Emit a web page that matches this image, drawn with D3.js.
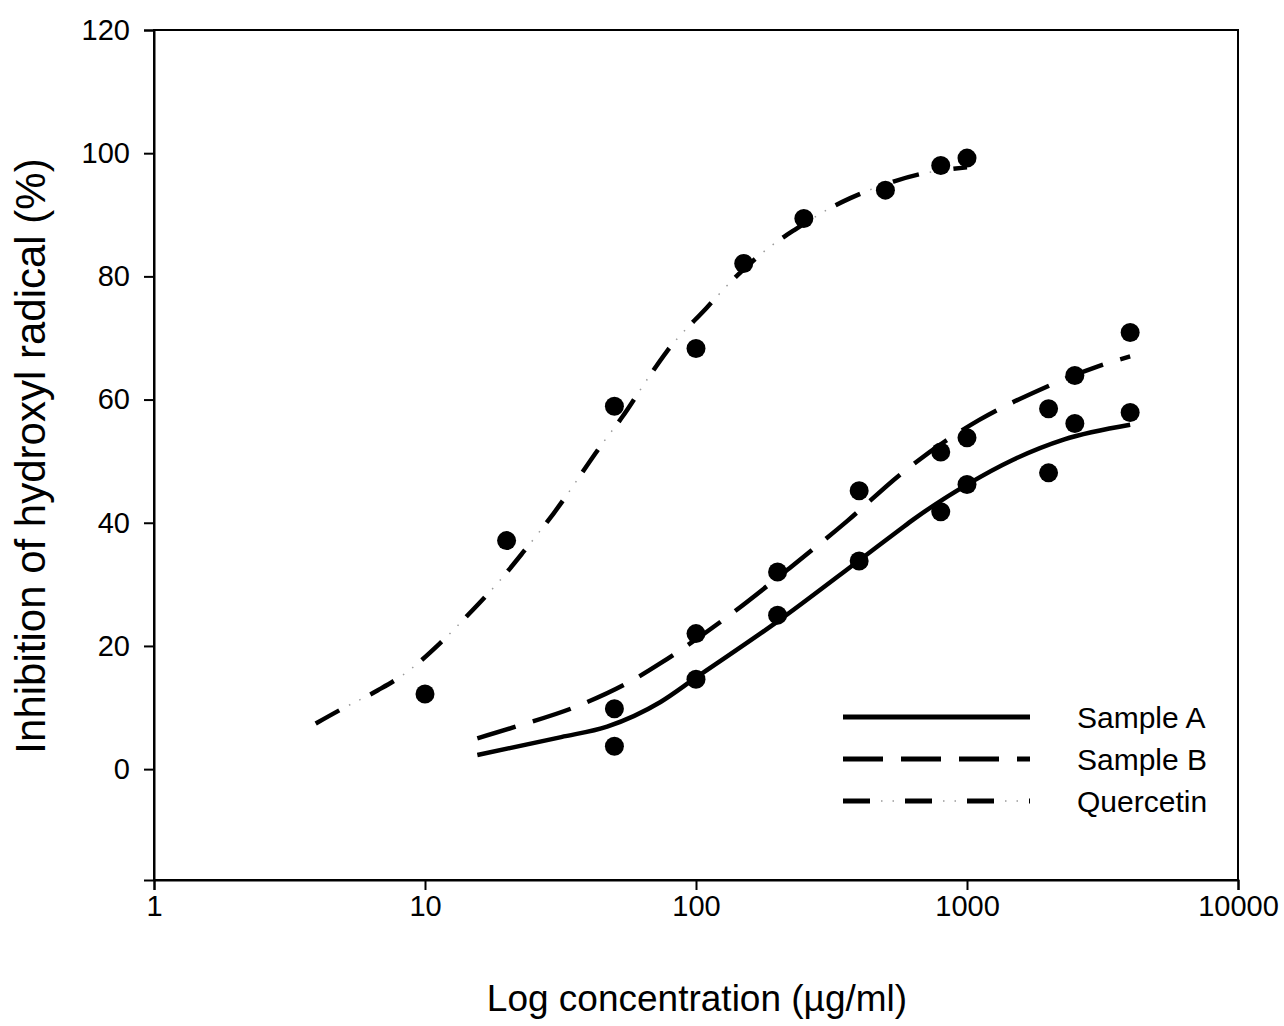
<!DOCTYPE html>
<html>
<head>
<meta charset="utf-8">
<script src="https://cdn.jsdelivr.net/npm/d3@7"></script>
<style>
  html, body { margin: 0; padding: 0; background: #fff; }
  svg { display: block; font-family: "Liberation Sans", Arial, sans-serif; }
</style>
</head>
<body>
<div id="vis-display"></div>
<script>
// Dose-response: inhibition of hydroxyl radical vs log concentration

const X_TICKS = [1, 10, 100, 1000, 10000];
const Y_TICKS = [0, 20, 40, 60, 80, 100, 120];

// Measured points [concentration µg/ml, inhibition %]
const PTS_A = [[50, 3.7], [100, 14.6], [200, 25.0], [400, 33.8], [800, 41.8],
               [1000, 46.2], [2000, 48.1], [2500, 56.1], [4000, 57.9]];
const PTS_B = [[50, 9.8], [100, 22.0], [200, 32.0], [400, 45.2], [800, 51.5],
               [1000, 53.8], [2000, 58.5], [2500, 63.9], [4000, 70.9]];
const PTS_Q = [[10, 12.2], [20, 37.1], [50, 58.9], [100, 68.3], [150, 82.1],
               [250, 89.4], [500, 94.0], [800, 98.0], [1000, 99.2]];

// Fitted curves
const FIT_A = [[15.6, 2.3], [31.8, 5.2], [47, 6.9], [74, 10.9], [99.6, 14.8], [199, 23.9],
               [403, 34.0], [566, 38.9], [633, 40.5], [1000, 46.2], [1474, 50.2],
               [2273, 53.5], [4000, 55.9]];
const FIT_B = [[15.6, 5.0], [22, 7.0], [35.9, 10.1], [58.7, 14.5], [74, 17.2], [133, 25.0],
               [218, 32.4], [362, 40.3], [566, 47.8], [1110, 56.7], [1860, 61.6],
               [3045, 65.4], [4000, 67.0]];
const FIT_Q = [[3.95, 7.4], [4.9, 9.7], [6.7, 12.8], [8.3, 15.3], [11.4, 20.5], [14.1, 24.6],
               [19.3, 31.1], [23.1, 35.3], [29.8, 41.5], [45.4, 53.0], [53.5, 57.2],
               [68, 64.1], [78, 67.8], [110, 75.0], [137, 79.5], [185, 84.6], [232, 87.6],
               [326, 91.5], [371, 92.7], [535, 95.4], [671, 96.6], [1000, 97.7]];

const SERIES = ["Sample A", "Sample B", "Quercetin"];

const W = 1284, H = 1026;
const margin = { top: 30, right: 46, bottom: 146, left: 154 };
const innerW = W - margin.left - margin.right;
const innerH = H - margin.top - margin.bottom;

const svg = d3.select("#vis-display").append("svg")
  .attr("width", W).attr("height", H);

const g = svg.append("g")
  .attr("transform", `translate(${margin.left},${margin.top})`);

const x = d3.scaleLog().domain([1, 10000]).range([0, innerW]);
const y = d3.scaleLinear().domain([-18, 120]).range([innerH, 0]);

// ── Frame + axes ─────────────────────────────────────────────────────────────

g.append("rect")
  .attr("width", innerW).attr("height", innerH)
  .attr("fill", "none").attr("stroke", "#000").attr("stroke-width", 2);

const xAx = g.append("g")
  .attr("transform", `translate(0,${innerH})`)
  .call(d3.axisBottom(x).tickValues(X_TICKS).tickFormat(d3.format("d"))
    .tickSize(10).tickPadding(5));

const yAx = g.append("g")
  .call(d3.axisLeft(y).tickValues(Y_TICKS).tickSize(10).tickPadding(14));

[xAx, yAx].forEach(ax => {
  ax.select(".domain").attr("stroke-width", 2);
  ax.selectAll(".tick line").attr("stroke-width", 2);
  ax.selectAll("text").style("font-size", "29px").attr("fill", "#000");
});

// Axis titles
svg.append("text")
  .attr("x", margin.left + innerW / 2 + 1)
  .attr("y", 1011)
  .attr("text-anchor", "middle")
  .style("font-size", "37px")
  .text("Log concentration (µg/ml)");

svg.append("text")
  .attr("transform", `translate(45,${456}) rotate(-90)`)
  .attr("text-anchor", "middle")
  .style("font-size", "42px")
  .text("Inhibition of hydroxyl radical (%)");

// ── Curves ───────────────────────────────────────────────────────────────────

const line = d3.line()
  .x(d => x(d[0]))
  .y(d => y(d[1]))
  .curve(d3.curveMonotoneX);

const STYLE = {
  "Sample A":  { fit: FIT_A, pts: PTS_A, dash: null },
  "Sample B":  { fit: FIT_B, pts: PTS_B, dash: "40,18" },
  "Quercetin": { fit: FIT_Q, pts: PTS_Q, dash: "27,35" },
};

SERIES.forEach(name => {
  const s = STYLE[name];
  g.append("path")
    .datum(s.fit)
    .attr("d", line)
    .attr("fill", "none")
    .attr("stroke", "#000")
    .attr("stroke-width", 4.5)
    .attr("stroke-dasharray", s.dash);
  if (name === "Quercetin") {
    // faint dots between the dashes
    g.append("path")
      .datum(s.fit)
      .attr("d", line)
      .attr("fill", "none")
      .attr("stroke", "#9a9a9a")
      .attr("stroke-width", 1.5)
      .attr("stroke-dasharray", "0,38,1.5,10,1.5,11");
  }
});

// ── Points ───────────────────────────────────────────────────────────────────

SERIES.forEach(name => {
  g.append("g")
    .selectAll("circle")
    .data(STYLE[name].pts)
    .join("circle")
      .attr("cx", d => x(d[0]))
      .attr("cy", d => y(d[1]))
      .attr("r", 9.5)
      .attr("fill", "#000");
});

// ── Legend ───────────────────────────────────────────────────────────────────

const leg = svg.append("g").attr("transform", "translate(843,717)");
SERIES.forEach((name, i) => {
  const s = STYLE[name];
  const row = leg.append("g").attr("transform", `translate(0,${i * 42})`);
  row.append("line")
    .attr("x1", 0).attr("x2", 187)
    .attr("stroke", "#000").attr("stroke-width", 5)
    .attr("stroke-dasharray", s.dash);
  if (name === "Quercetin") {
    row.append("line")
      .attr("x1", 0).attr("x2", 187)
      .attr("stroke", "#9a9a9a").attr("stroke-width", 1.5)
      .attr("stroke-dasharray", "0,38,1.5,10,1.5,11");
  }
  row.append("text")
    .attr("x", 234).attr("y", 11)
    .style("font-size", "30px")
    .text(name);
});
</script>
</body>
</html>
